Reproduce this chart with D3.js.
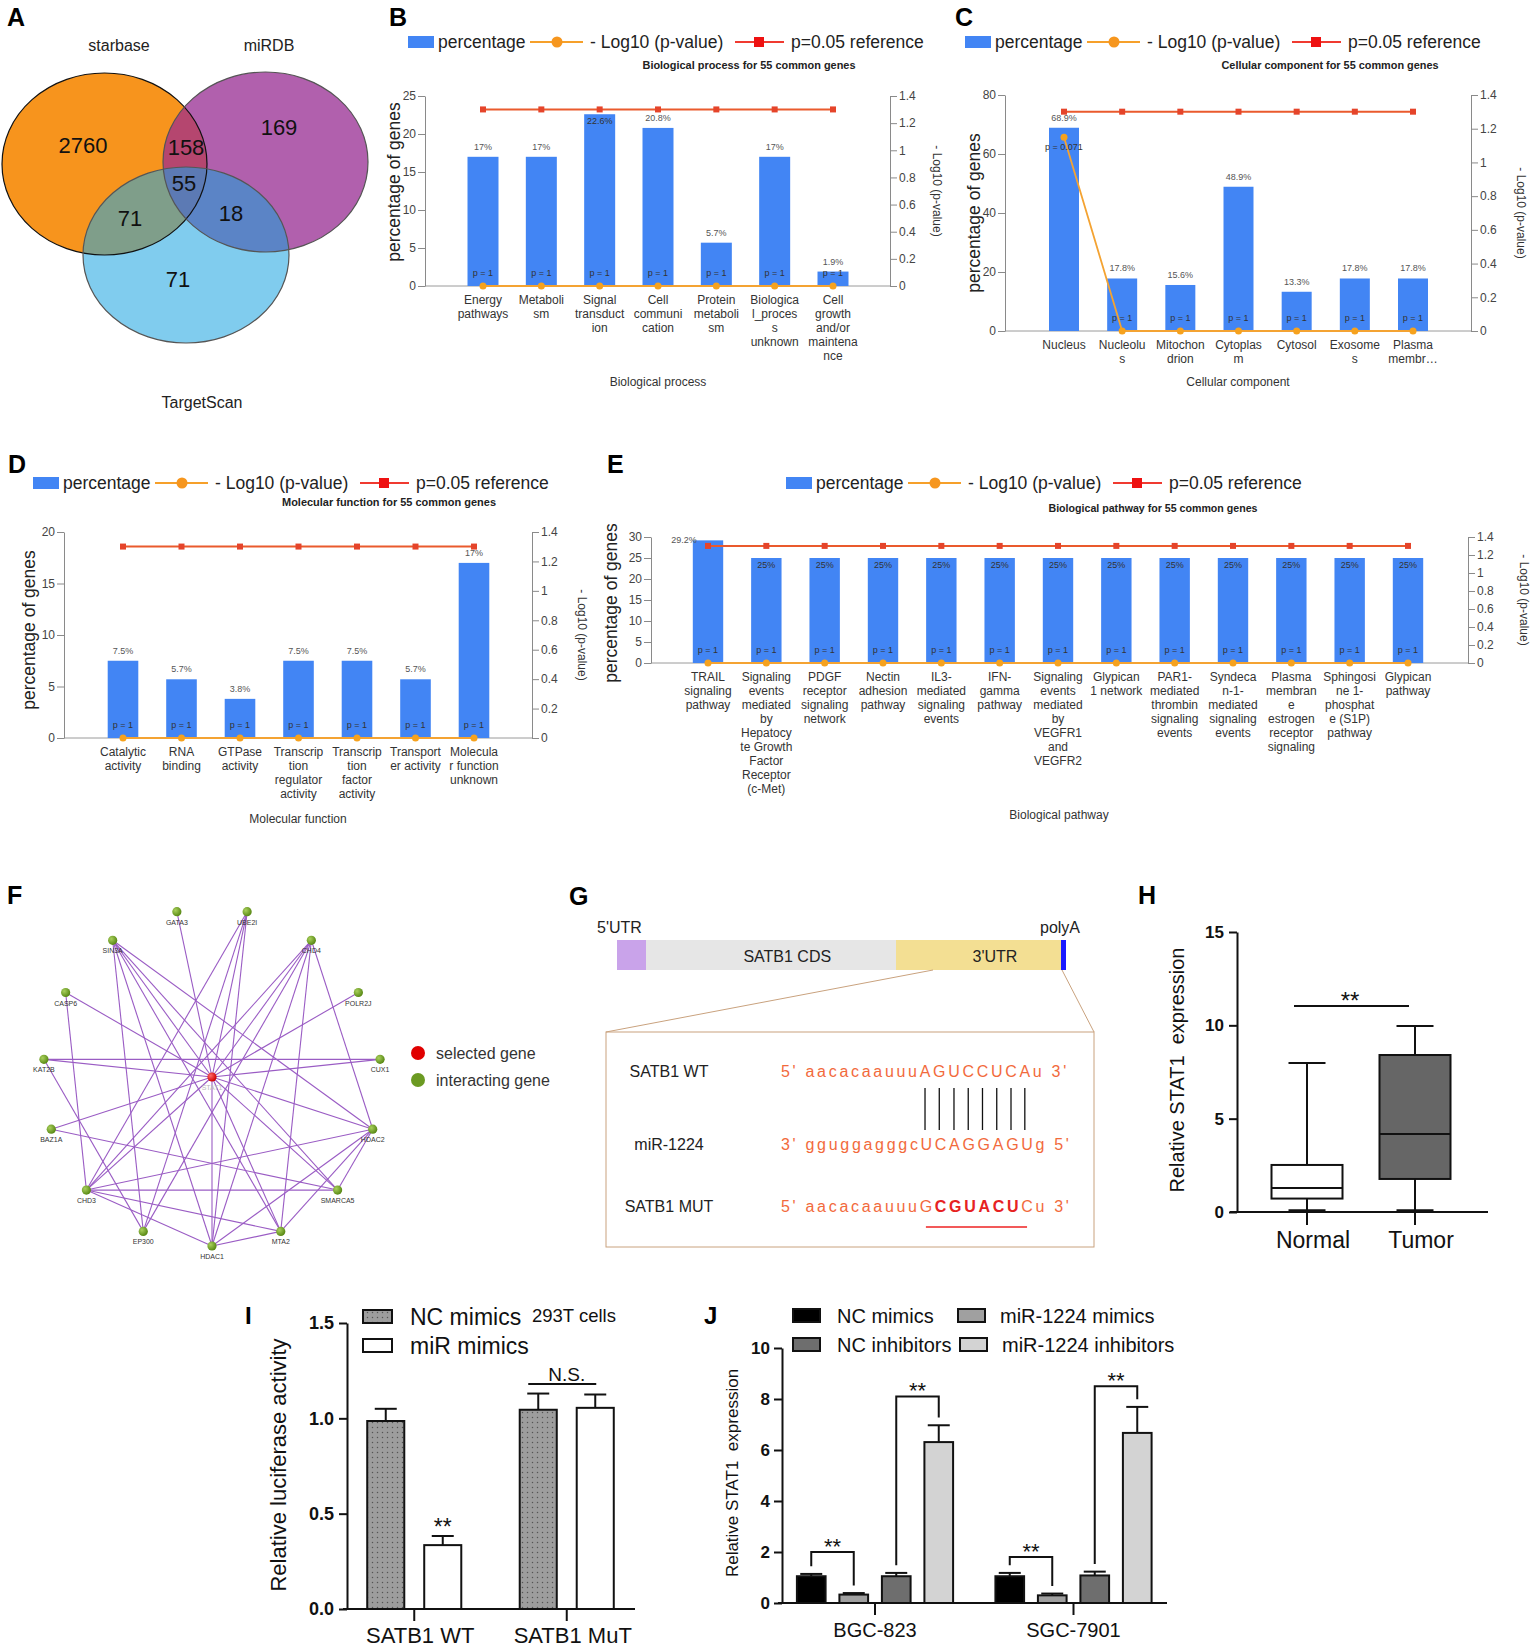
<!DOCTYPE html>
<html>
<head>
<meta charset="utf-8">
<script src="https://cdn.jsdelivr.net/npm/d3@7"></script>
<style>
body { margin: 0; background: #fff; }
svg { font-family: "Liberation Sans", Arial, sans-serif; }
</style>
</head>
<body>
<svg id="fig" width="1535" height="1649"></svg>
<script>
// ---------- data ----------
// A: venn
var vennNames = ["starbase", "miRDB", "TargetScan"];
// starbase only, miRDB only, TargetScan only, s∩m, s∩t, m∩t, all three
var vennCounts = [2760, 169, 71, 158, 71, 18, 55];

// B-E: GO / pathway enrichment
var refP = 0.05;
var bpCats = [["Energy", "pathways"], ["Metaboli", "sm"], ["Signal", "transduct", "ion"], ["Cell", "communi", "cation"],
  ["Protein", "metaboli", "sm"], ["Biologica", "l_proces", "s", "unknown"], ["Cell", "growth", "and/or", "maintena", "nce"]];
var bpPct = [17, 17, 22.6, 20.8, 5.7, 17, 1.9];
var bpP = [1, 1, 1, 1, 1, 1, 1];

var ccCats = [["Nucleus"], ["Nucleolu", "s"], ["Mitochon", "drion"], ["Cytoplas", "m"], ["Cytosol"], ["Exosome", "s"], ["Plasma", "membr\u2026"]];
var ccPct = [68.9, 17.8, 15.6, 48.9, 13.3, 17.8, 17.8];
var ccP = [0.071, 1, 1, 1, 1, 1, 1];

var mfCats = [["Catalytic", "activity"], ["RNA", "binding"], ["GTPase", "activity"], ["Transcrip", "tion", "regulator", "activity"],
  ["Transcrip", "tion", "factor", "activity"], ["Transport", "er activity"], ["Molecula", "r function", "unknown"]];
var mfPct = [7.5, 5.7, 3.8, 7.5, 7.5, 5.7, 17];
var mfP = [1, 1, 1, 1, 1, 1, 1];

var pwCats = [["TRAIL", "signaling", "pathway"],
  ["Signaling", "events", "mediated", "by", "Hepatocy", "te Growth", "Factor", "Receptor", "(c-Met)"],
  ["PDGF", "receptor", "signaling", "network"], ["Nectin", "adhesion", "pathway"], ["IL3-", "mediated", "signaling", "events"],
  ["IFN-", "gamma", "pathway"], ["Signaling", "events", "mediated", "by", "VEGFR1", "and", "VEGFR2"], ["Glypican", "1 network"],
  ["PAR1-", "mediated", "thrombin", "signaling", "events"], ["Syndeca", "n-1-", "mediated", "signaling", "events"],
  ["Plasma", "membran", "e", "estrogen", "receptor", "signaling"], ["Sphingosi", "ne 1-", "phosphat", "e (S1P)", "pathway"],
  ["Glypican", "pathway"]];
var pwPct = [29.2, 25, 25, 25, 25, 25, 25, 25, 25, 25, 25, 25, 25];
var pwP = [1, 1, 1, 1, 1, 1, 1, 1, 1, 1, 1, 1, 1];

// F: interaction network
var fCenter = "STAT1";
var fGenes = ["GATA3", "UBE2I", "CHD4", "POLR2J", "CUX1", "HDAC2", "SMARCA5", "MTA2", "HDAC1", "EP300", "CHD3", "BAZ1A", "KAT2B", "CASP6", "SIN3A"];
var fEdges = [
  ["STAT1", "GATA3"], ["STAT1", "UBE2I"], ["STAT1", "CHD4"], ["STAT1", "POLR2J"], ["STAT1", "CUX1"], ["STAT1", "HDAC2"],
  ["STAT1", "SMARCA5"], ["STAT1", "MTA2"], ["STAT1", "HDAC1"], ["STAT1", "CHD3"], ["STAT1", "BAZ1A"], ["STAT1", "KAT2B"],
  ["STAT1", "CASP6"], ["STAT1", "SIN3A"],
  ["UBE2I", "CHD3"], ["UBE2I", "EP300"], ["UBE2I", "HDAC1"],
  ["SIN3A", "HDAC1"], ["SIN3A", "MTA2"], ["SIN3A", "SMARCA5"], ["SIN3A", "HDAC2"], ["SIN3A", "EP300"],
  ["CHD4", "CHD3"], ["CHD4", "EP300"], ["CHD4", "HDAC1"], ["CHD4", "MTA2"], ["CHD4", "HDAC2"],
  ["CASP6", "CHD3"], ["KAT2B", "CUX1"], ["KAT2B", "EP300"], ["BAZ1A", "SMARCA5"],
  ["HDAC2", "CHD3"], ["HDAC2", "HDAC1"], ["HDAC2", "MTA2"], ["HDAC2", "SMARCA5"],
  ["CHD3", "SMARCA5"], ["CHD3", "MTA2"], ["CHD3", "HDAC1"], ["HDAC1", "MTA2"]];

// G: SATB1 construct
var gSegNames = ["", "SATB1 CDS", "3'UTR", ""];
var gSegLen = [29, 250, 165, 5];
var gRowNames = ["SATB1 WT", "miR-1224", "SATB1 MUT"];
var gSeqs = ["5' aacacaauuuAGUCCUCAu 3'", "3' gguggagggcUCAGGAGUg 5'", "5' aacacaauuuGCGUACUCu 3'"];
var gPairFrom = 13, gPairTo = 20;

// H: boxplot
var hGroups = ["Normal", "Tumor"];
var hMin = [0.07, 0.07], hQ1 = [0.72, 1.77], hMed = [1.29, 4.18], hQ3 = [2.52, 8.41], hMax = [7.98, 9.96];
var hSig = 11.04;

// I: luciferase
var iGroups = ["SATB1 WT", "SATB1 MuT"];
var iSeries = ["NC mimics", "miR mimics"];
var iVals = [[0.986, 0.335], [1.045, 1.055]];
var iErr = [[0.064, 0.048], [0.085, 0.07]];
var iNS = 1.18;

// J: qPCR
var jGroups = ["BGC-823", "SGC-7901"];
var jSeries = ["NC mimics", "miR-1224 mimics", "NC inhibitors", "miR-1224 inhibitors"];
var jVals = [[1.05, 0.33, 1.05, 6.31], [1.05, 0.30, 1.08, 6.67]];
var jErr = [[0.09, 0.06, 0.13, 0.66], [0.13, 0.07, 0.15, 1.02]];
var jBracket = [[2.0, 8.1], [1.8, 8.5]];

// ---------- drawing ----------
var svg = d3.select("#fig");
svg.append("rect").attr("width", 1535).attr("height", 1649).attr("fill", "#fff");
var defs = svg.append("defs");

function txt(g, x, y, s, size, opts) {
  opts = opts || {};
  var t = g.append("text").attr("x", x).attr("y", y).text(s)
    .attr("font-size", size).attr("fill", opts.fill || "#222")
    .attr("text-anchor", opts.anchor || "start");
  if (opts.weight) t.attr("font-weight", opts.weight);
  return t;
}
function rotTxt(g, x, y, s, size, angle, fill) {
  return g.append("text").attr("transform", "translate(" + x + "," + y + ") rotate(" + angle + ")")
    .attr("text-anchor", "middle").attr("dy", "0.35em").attr("font-size", size)
    .attr("fill", fill || "#222").style("white-space", "pre").text(s);
}

// panel letters
[["A", 7, 26], ["B", 389, 26], ["C", 955, 26], ["D", 8, 473], ["E", 607, 473], ["F", 7, 904], ["G", 569, 905], ["H", 1138, 904]]
  .forEach(function (p) { txt(svg, p[1], p[2], p[0], 25, { weight: "bold", fill: "#000" }); });
[["I", 245, 1324], ["J", 704, 1324]].forEach(function (p) { txt(svg, p[1], p[2], p[0], 24, { weight: "bold", fill: "#000" }); });

// ---------- A ----------
(function () {
  var g = svg.append("g");
  var ell = [{ cx: 104.5, cy: 164, rx: 102.5, ry: 91 }, { cx: 265.5, cy: 162, rx: 102.5, ry: 90 }, { cx: 186, cy: 255, rx: 103, ry: 88 }];
  var fills = ["#f7941d", "#b160ad", "#80ccee"];
  ell.forEach(function (e, i) {
    defs.append("clipPath").attr("id", "vclip" + i).append("ellipse")
      .attr("cx", e.cx).attr("cy", e.cy).attr("rx", e.rx).attr("ry", e.ry);
  });
  function el(parent, i, fill, clip) {
    var e = ell[i];
    var s = parent.append("ellipse").attr("cx", e.cx).attr("cy", e.cy).attr("rx", e.rx).attr("ry", e.ry).attr("fill", fill);
    if (clip != null) s.attr("clip-path", "url(#vclip" + clip + ")");
    return s;
  }
  ell.forEach(function (e, i) { el(g, i, fills[i]); });
  el(g, 1, "#b5466f", 0);
  el(g, 2, "#7f9e8a", 0);
  el(g, 2, "#5b84c6", 1);
  el(g.append("g").attr("clip-path", "url(#vclip0)"), 2, "#5c7ab4", 1);
  ell.forEach(function (e, i) {
    g.append("ellipse").attr("cx", e.cx).attr("cy", e.cy).attr("rx", e.rx).attr("ry", e.ry)
      .attr("fill", "none").attr("stroke", i === 0 ? "#111" : "#555").attr("stroke-width", 1.2);
  });
  var pos = [[83, 145], [279, 127], [178, 279], [186, 147], [130, 218], [231, 213], [184, 183]];
  vennCounts.forEach(function (c, i) { txt(g, pos[i][0], pos[i][1] + 8, c, 22, { anchor: "middle", fill: "#111" }); });
  var npos = [[119, 51], [269, 51], [202, 408]];
  vennNames.forEach(function (n, i) { txt(g, npos[i][0], npos[i][1], n, 16, { anchor: "middle" }); });
})();

// ---------- B-E ----------
var refVal = -Math.log10(refP);
var rightTicks = [0, 0.2, 0.4, 0.6, 0.8, 1, 1.2, 1.4];

function legend(x, y) {
  var g = svg.append("g");
  g.append("rect").attr("x", x).attr("y", y - 6).attr("width", 26).attr("height", 12).attr("fill", "#4285f4");
  txt(g, x + 30, y + 6, "percentage", 17.5);
  g.append("line").attr("x1", x + 122).attr("x2", x + 175).attr("y1", y).attr("y2", y).attr("stroke", "#f6a02a").attr("stroke-width", 2);
  g.append("circle").attr("cx", x + 149).attr("cy", y).attr("r", 5.5).attr("fill", "#f6961e");
  txt(g, x + 182, y + 6, "- Log10 (p-value)", 17.5);
  g.append("line").attr("x1", x + 327).attr("x2", x + 376).attr("y1", y).attr("y2", y).attr("stroke", "#f03a30").attr("stroke-width", 2);
  g.append("rect").attr("x", x + 346).attr("y", y - 5).attr("width", 10).attr("height", 10).attr("fill", "#ee1111");
  txt(g, x + 383, y + 6, "p=0.05 reference", 17.5);
}

function goChart(cats, pct, pv, yMax, yStep, L, title, yTitle) {
  var g = svg.append("g");
  var y = d3.scaleLinear().domain([0, yMax]).range([L.y0, L.yTop]);
  var y2 = d3.scaleLinear().domain([0, 1.4]).range([L.y0, L.yTop]);
  var x = d3.scalePoint().domain(d3.range(pct.length)).range([L.first, L.last]);
  var refY = y2(refVal);

  g.append("line").attr("x1", L.xl).attr("x2", L.xr).attr("y1", L.y0).attr("y2", L.y0).attr("stroke", "#9a9a9a");
  g.selectAll(".bar").data(pct).enter().append("rect")
    .attr("x", function (d, i) { return x(i) - L.bw / 2; })
    .attr("y", function (d) { return y(d); })
    .attr("width", L.bw)
    .attr("height", function (d) { return L.y0 - y(d); })
    .attr("fill", "#4285f4");

  var la = g.append("g").attr("transform", "translate(" + L.xl + ",0)")
    .call(d3.axisLeft(y).tickValues(d3.range(0, yMax + 0.001, yStep)).tickSize(7).tickSizeOuter(0).tickPadding(2));
  var ra = g.append("g").attr("transform", "translate(" + L.xr + ",0)")
    .call(d3.axisRight(y2).tickValues(rightTicks).tickSize(7).tickSizeOuter(0).tickPadding(2).tickFormat(d3.format("~g")));
  [la, ra].forEach(function (a) {
    a.attr("font-family", null).attr("font-size", 12);
    a.selectAll("path, line").attr("stroke", "#8a8a8a");
    a.selectAll("text").attr("fill", "#444");
  });

  // reference line
  g.append("path").datum(pct)
    .attr("d", d3.line().x(function (d, i) { return x(i); }).y(function () { return refY; }))
    .attr("fill", "none").attr("stroke", "#ea5a2d").attr("stroke-width", 2);
  g.selectAll(".sq").data(pct).enter().append("rect")
    .attr("x", function (d, i) { return x(i) - 3; }).attr("y", refY - 3)
    .attr("width", 6).attr("height", 6).attr("fill", "#e5442a");

  // -log10 p line
  var py = function (p) { return y2(Math.max(0, -Math.log10(p))); };
  g.append("path").datum(pv)
    .attr("d", d3.line().x(function (d, i) { return x(i); }).y(py))
    .attr("fill", "none").attr("stroke", "#f4a332").attr("stroke-width", 1.8);
  g.selectAll(".pt").data(pv).enter().append("circle")
    .attr("cx", function (d, i) { return x(i); }).attr("cy", py).attr("r", 3.5).attr("fill", "#f6a21e");

  // value labels
  pct.forEach(function (d, i) {
    var top = y(d);
    if (top < refY) {
      txt(g, x(i) - L.bw / 2 + 4, top + 3, d + "%", 9, { anchor: "end", fill: "#555" });
    } else if (top - 14 < refY) {
      txt(g, x(i), top + 10, d + "%", 9, { anchor: "middle", fill: "#333" });
    } else {
      txt(g, x(i), top - 7, d + "%", 9, { anchor: "middle", fill: "#555" });
    }
  });
  pv.forEach(function (p, i) {
    var yy = p < 1 ? py(p) + 13 : L.y0 - 10;
    txt(g, x(i), yy, "p = " + p, 9, { anchor: "middle", fill: "#333" });
  });

  // category labels
  cats.forEach(function (lines, i) {
    var t = g.append("text").attr("text-anchor", "middle").attr("font-size", 12).attr("fill", "#333");
    lines.forEach(function (s, k) {
      t.append("tspan").attr("x", x(i)).attr("y", L.y0 + 18 + k * 14).text(s);
    });
  });

  txt(g, L.titleX, L.titleY, title, 11.5, { anchor: "middle", weight: "bold" })
    .attr("textLength", L.titleW).attr("lengthAdjust", "spacingAndGlyphs");
  txt(g, L.xtitleX, L.xtitleY, yTitle, 12, { anchor: "middle", fill: "#333" });
  rotTxt(g, L.ylabX, L.ylabY, "percentage of genes", 17.5, -90);
  rotTxt(g, L.rlabX, L.rlabY, "- Log10 (p-value)", 12, 90, "#333");
  legend(L.legX, L.legY);
}

goChart(bpCats, bpPct, bpP, 25, 5,
  { xl: 425, xr: 890, y0: 286, yTop: 96, first: 483, last: 833, bw: 31, titleX: 749, titleY: 69, titleW: 213,
    legX: 408, legY: 42, ylabX: 394, ylabY: 182, rlabX: 937, rlabY: 191, xtitleX: 658, xtitleY: 386 },
  "Biological process for 55 common genes", "Biological process");
goChart(ccCats, ccPct, ccP, 80, 20,
  { xl: 1005, xr: 1471, y0: 331, yTop: 95, first: 1064, last: 1413, bw: 30, titleX: 1330, titleY: 69, titleW: 217,
    legX: 965, legY: 42, ylabX: 974, ylabY: 213, rlabX: 1521, rlabY: 213, xtitleX: 1238, xtitleY: 386 },
  "Cellular component for 55 common genes", "Cellular component");
goChart(mfCats, mfPct, mfP, 20, 5,
  { xl: 64, xr: 532, y0: 738, yTop: 532, first: 123, last: 474, bw: 30.6, titleX: 389, titleY: 506, titleW: 214,
    legX: 33, legY: 483, ylabX: 29, ylabY: 630, rlabX: 582, rlabY: 635, xtitleX: 298, xtitleY: 823 },
  "Molecular function for 55 common genes", "Molecular function");
goChart(pwCats, pwPct, pwP, 30, 5,
  { xl: 651, xr: 1468, y0: 663, yTop: 537, first: 708, last: 1408, bw: 30.4, titleX: 1153, titleY: 512, titleW: 209,
    legX: 786, legY: 483, ylabX: 611, ylabY: 603, rlabX: 1524, rlabY: 600, xtitleX: 1059, xtitleY: 819 },
  "Biological pathway for 55 common genes", "Biological pathway");

// ---------- F ----------
(function () {
  var g = svg.append("g");
  var gr = defs.append("radialGradient").attr("id", "gGreen").attr("cx", "35%").attr("cy", "35%").attr("r", "65%");
  gr.append("stop").attr("offset", "0%").attr("stop-color", "#a9d05c");
  gr.append("stop").attr("offset", "100%").attr("stop-color", "#5a8a16");
  var rr = defs.append("radialGradient").attr("id", "gRed").attr("cx", "35%").attr("cy", "35%").attr("r", "65%");
  rr.append("stop").attr("offset", "0%").attr("stop-color", "#ff6a6a");
  rr.append("stop").attr("offset", "100%").attr("stop-color", "#d00000");

  var cx = 212, cy = 1077, R = 169;
  var ang = d3.scaleLinear().domain([0, fGenes.length]).range([-12, 348]);
  var pos = {};
  pos[fCenter] = [cx, cy];
  fGenes.forEach(function (n, i) {
    var a = ang(i) * Math.PI / 180;
    pos[n] = [cx + R * Math.sin(a), cy - R * Math.cos(a)];
  });
  g.selectAll(".edge").data(fEdges).enter().append("line")
    .attr("x1", function (e) { return pos[e[0]][0]; }).attr("y1", function (e) { return pos[e[0]][1]; })
    .attr("x2", function (e) { return pos[e[1]][0]; }).attr("y2", function (e) { return pos[e[1]][1]; })
    .attr("stroke", "#9a5cc4").attr("stroke-width", 1.1);
  fGenes.forEach(function (n) {
    g.append("circle").attr("cx", pos[n][0]).attr("cy", pos[n][1]).attr("r", 4.6).attr("fill", "url(#gGreen)");
    txt(g, pos[n][0], pos[n][1] + 13, n, 7, { anchor: "middle", fill: "#333" });
  });
  txt(g, cx, cy + 13, fCenter, 7, { anchor: "middle", fill: "#bbb" });
  g.append("circle").attr("cx", cx).attr("cy", cy).attr("r", 4.6).attr("fill", "url(#gRed)");

  g.append("circle").attr("cx", 418).attr("cy", 1053).attr("r", 7).attr("fill", "#e00000");
  txt(g, 436, 1059, "selected gene", 16, { fill: "#333" });
  g.append("circle").attr("cx", 418).attr("cy", 1080).attr("r", 7).attr("fill", "#6b9a22");
  txt(g, 436, 1086, "interacting gene", 16, { fill: "#333" });
})();

// ---------- G ----------
(function () {
  var g = svg.append("g");
  var total = d3.sum(gSegLen);
  var xs = d3.scaleLinear().domain([0, total]).range([617, 1066]);
  var cols = ["#c9a3ea", "#e6e6e6", "#f3df93", "#1a1aff"];
  var labelAt = [0.5, 0.565, 0.6, 0.5];
  var acc = 0;
  gSegLen.forEach(function (len, i) {
    g.append("rect").attr("x", xs(acc)).attr("y", 940).attr("width", xs(acc + len) - xs(acc)).attr("height", 30).attr("fill", cols[i]);
    if (gSegNames[i]) {
      txt(g, xs(acc + len * labelAt[i]), 962, gSegNames[i], 16, { anchor: "middle" });
    }
    acc += len;
  });
  txt(g, 597, 933, "5'UTR", 16);
  txt(g, 1040, 933, "polyA", 16);
  var tan = "#c9a27e";
  g.append("line").attr("x1", 933).attr("y1", 970).attr("x2", 606).attr("y2", 1032).attr("stroke", tan);
  g.append("line").attr("x1", 1062).attr("y1", 970).attr("x2", 1094).attr("y2", 1032).attr("stroke", tan);
  g.append("rect").attr("x", 606).attr("y", 1032).attr("width", 488).attr("height", 215).attr("fill", "none").attr("stroke", tan);

  var rowY = [1077, 1150, 1212];
  gRowNames.forEach(function (n, i) { txt(g, 669, rowY[i], n, 16, { anchor: "middle" }); });
  var seqEls = gSeqs.map(function (s, i) {
    var t = g.append("text").attr("x", 781).attr("y", rowY[i]).attr("font-size", 16)
      .attr("fill", "#f26a3c").style("letter-spacing", "2.7px").style("white-space", "pre");
    if (i === 2) {
      t.append("tspan").text(s.slice(0, 14));
      t.append("tspan").text(s.slice(14, 20)).attr("fill", "#e62222").attr("font-weight", "bold");
      t.append("tspan").text(s.slice(20));
    } else {
      t.text(s);
    }
    return t;
  });
  function cxChar(el, k) {
    var b = el.node().getExtentOfChar(k);
    return b.x + (b.width - 2.7) / 2;
  }
  for (var k = gPairFrom; k <= gPairTo; k++) {
    var px = cxChar(seqEls[0], k);
    g.append("line").attr("x1", px).attr("x2", px).attr("y1", 1088).attr("y2", 1130).attr("stroke", "#111").attr("stroke-width", 1.3);
  }
  g.append("line").attr("x1", cxChar(seqEls[2], gPairFrom)).attr("x2", cxChar(seqEls[2], gPairTo))
    .attr("y1", 1227).attr("y2", 1227).attr("stroke", "#ee2222").attr("stroke-width", 1.5);
})();

// ---------- H ----------
(function () {
  var g = svg.append("g");
  var y = d3.scaleLinear().domain([0, 15]).range([1212, 932]);
  var x = d3.scalePoint().domain(hGroups).range([1307, 1415]);
  var ax = g.append("g").attr("transform", "translate(1237,0)")
    .call(d3.axisLeft(y).tickValues([0, 5, 10, 15]).tickSize(8).tickSizeOuter(0).tickPadding(5));
  ax.attr("font-family", null).attr("font-size", 17).attr("font-weight", "bold");
  ax.selectAll("path, line").attr("stroke", "#111").attr("stroke-width", 2);
  ax.selectAll("text").attr("fill", "#111");
  g.append("line").attr("x1", 1230).attr("x2", 1488).attr("y1", 1212).attr("y2", 1212).attr("stroke", "#111").attr("stroke-width", 2);
  hGroups.forEach(function (n, i) {
    var c = x(n);
    g.append("line").attr("x1", c).attr("x2", c).attr("y1", 1212).attr("y2", 1225).attr("stroke", "#111").attr("stroke-width", 2);
    g.append("line").attr("x1", c).attr("x2", c).attr("y1", y(hQ3[i])).attr("y2", y(hMax[i])).attr("stroke", "#111").attr("stroke-width", 2);
    g.append("line").attr("x1", c).attr("x2", c).attr("y1", y(hQ1[i])).attr("y2", y(hMin[i])).attr("stroke", "#111").attr("stroke-width", 2);
    g.append("line").attr("x1", c - 18.5).attr("x2", c + 18.5).attr("y1", y(hMax[i])).attr("y2", y(hMax[i])).attr("stroke", "#111").attr("stroke-width", 2);
    g.append("line").attr("x1", c - 18.5).attr("x2", c + 18.5).attr("y1", y(hMin[i])).attr("y2", y(hMin[i])).attr("stroke", "#111").attr("stroke-width", 3);
    g.append("rect").attr("x", c - 35.5).attr("y", y(hQ3[i])).attr("width", 71).attr("height", y(hQ1[i]) - y(hQ3[i]))
      .attr("fill", i === 0 ? "#fff" : "#666").attr("stroke", "#111").attr("stroke-width", 2);
    g.append("line").attr("x1", c - 35.5).attr("x2", c + 35.5).attr("y1", y(hMed[i])).attr("y2", y(hMed[i])).attr("stroke", "#111").attr("stroke-width", 2);
    txt(g, c + 6, 1248, n, 23, { anchor: "middle", fill: "#111" });
  });
  g.append("line").attr("x1", x("Normal") - 13).attr("x2", x("Tumor") - 6).attr("y1", y(hSig)).attr("y2", y(hSig)).attr("stroke", "#111").attr("stroke-width", 2);
  txt(g, 1350, y(hSig) + 3, "**", 24, { anchor: "middle", fill: "#111" });
  rotTxt(g, 1177, 1070, "Relative STAT1  expression", 20, -90, "#111");
})();

// ---------- I ----------
(function () {
  var g = svg.append("g");
  var pat = defs.append("pattern").attr("id", "dots").attr("width", 5).attr("height", 5).attr("patternUnits", "userSpaceOnUse");
  pat.append("rect").attr("width", 5).attr("height", 5).attr("fill", "#9d9d9d");
  pat.append("circle").attr("cx", 2.5).attr("cy", 2.5).attr("r", 0.75).attr("fill", "#555");
  var fills = ["url(#dots)", "#fff"];
  var y = d3.scaleLinear().domain([0, 1.5]).range([1609, 1323]);
  var x0 = d3.scaleBand().domain(iGroups).range([338, 643]);
  var x1 = d3.scaleBand().domain(iSeries).range([19.25, 133.25]).paddingInner(0.35).paddingOuter(0.175);
  var ax = g.append("g").attr("transform", "translate(347,0)")
    .call(d3.axisLeft(y).tickValues([0, 0.5, 1, 1.5]).tickFormat(d3.format(".1f")).tickSize(8).tickSizeOuter(0).tickPadding(5));
  ax.attr("font-family", null).attr("font-size", 18).attr("font-weight", "bold");
  ax.selectAll("path, line").attr("stroke", "#111").attr("stroke-width", 2);
  ax.selectAll("text").attr("fill", "#111");
  g.append("line").attr("x1", 343).attr("x2", 635).attr("y1", 1609).attr("y2", 1609).attr("stroke", "#111").attr("stroke-width", 2);
  iGroups.forEach(function (gn, gi) {
    var gc = x0(gn) + x0.bandwidth() / 2;
    g.append("line").attr("x1", gc).attr("x2", gc).attr("y1", 1609).attr("y2", 1621).attr("stroke", "#111").attr("stroke-width", 2);
    txt(g, gc + 6, 1643, gn, 22, { anchor: "middle", fill: "#111" });
    iSeries.forEach(function (sn, si) {
      var bx = x0(gn) + x1(sn), bw = x1.bandwidth(), v = iVals[gi][si], e = iErr[gi][si];
      var bc = bx + bw / 2;
      g.append("line").attr("x1", bc).attr("x2", bc).attr("y1", y(v)).attr("y2", y(v + e)).attr("stroke", "#111").attr("stroke-width", 2);
      g.append("line").attr("x1", bc - 11).attr("x2", bc + 11).attr("y1", y(v + e)).attr("y2", y(v + e)).attr("stroke", "#111").attr("stroke-width", 2);
      g.append("rect").attr("x", bx).attr("y", y(v)).attr("width", bw).attr("height", 1609 - y(v))
        .attr("fill", fills[si]).attr("stroke", "#111").attr("stroke-width", 2);
    });
  });
  var wt = x0("SATB1 WT") + x1("miR mimics") + x1.bandwidth() / 2;
  txt(g, wt, y(iVals[0][1] + iErr[0][1]) - 1, "**", 23, { anchor: "middle", fill: "#111" });
  var ncM = x0("SATB1 MuT") + x1("NC mimics") + x1.bandwidth() / 2;
  var miM = x0("SATB1 MuT") + x1("miR mimics") + x1.bandwidth() / 2;
  g.append("line").attr("x1", ncM - 10).attr("x2", miM + 1).attr("y1", y(iNS)).attr("y2", y(iNS)).attr("stroke", "#111").attr("stroke-width", 2);
  txt(g, (ncM + miM) / 2, y(iNS) - 3, "N.S.", 19, { anchor: "middle", fill: "#111" });

  // legend
  iSeries.forEach(function (sn, si) {
    var ly = 1310 + si * 29;
    g.append("rect").attr("x", 363).attr("y", ly).attr("width", 29).attr("height", 13).attr("fill", fills[si]).attr("stroke", "#111").attr("stroke-width", 2);
    txt(g, 410, ly + 15, sn, 23, { fill: "#111" });
  });
  txt(g, 532, 1322, "293T cells", 18.5, { fill: "#111" });
  rotTxt(g, 278, 1465, "Relative luciferase activity", 22, -90, "#111");
})();

// ---------- J ----------
(function () {
  var g = svg.append("g");
  var cols = ["#000", "#a0a0a0", "#6e6e6e", "#d3d3d3"];
  var y = d3.scaleLinear().domain([0, 10]).range([1603, 1348]);
  var x0 = d3.scaleBand().domain(jGroups).range([775.75, 1172.75]);
  var x1 = d3.scaleBand().domain(jSeries).range([14.25, 184.25]).paddingInner(0.325).paddingOuter(0.1625);
  var ax = g.append("g").attr("transform", "translate(782,0)")
    .call(d3.axisLeft(y).tickValues([0, 2, 4, 6, 8, 10]).tickSize(8).tickSizeOuter(0).tickPadding(4));
  ax.attr("font-family", null).attr("font-size", 17).attr("font-weight", "bold");
  ax.selectAll("path, line").attr("stroke", "#111").attr("stroke-width", 2);
  ax.selectAll("text").attr("fill", "#111");
  g.append("line").attr("x1", 778).attr("x2", 1167).attr("y1", 1603).attr("y2", 1603).attr("stroke", "#111").attr("stroke-width", 2);
  jGroups.forEach(function (gn, gi) {
    var gc = x0(gn) + x0.bandwidth() / 2;
    g.append("line").attr("x1", gc).attr("x2", gc).attr("y1", 1603).attr("y2", 1615).attr("stroke", "#111").attr("stroke-width", 2);
    txt(g, gc, 1637, gn, 20, { anchor: "middle", fill: "#111" });
    var cen = [];
    jSeries.forEach(function (sn, si) {
      var bx = x0(gn) + x1(sn), bw = x1.bandwidth(), v = jVals[gi][si], e = jErr[gi][si];
      var bc = bx + bw / 2;
      cen.push(bc);
      g.append("line").attr("x1", bc).attr("x2", bc).attr("y1", y(v)).attr("y2", y(v + e)).attr("stroke", "#111").attr("stroke-width", 2);
      g.append("line").attr("x1", bc - 11).attr("x2", bc + 11).attr("y1", y(v + e)).attr("y2", y(v + e)).attr("stroke", "#111").attr("stroke-width", 2);
      g.append("rect").attr("x", bx).attr("y", y(v)).attr("width", bw).attr("height", 1603 - y(v))
        .attr("fill", cols[si]).attr("stroke", "#111").attr("stroke-width", 2);
    });
    [[0, 1], [2, 3]].forEach(function (pr, pi) {
      var top = jBracket[gi][pi];
      var l = pr[0], r = pr[1];
      var lb = y(jVals[gi][l] + jErr[gi][l] + 0.3), rb = y(jVals[gi][r] + jErr[gi][r] + 0.3);
      g.append("path").attr("d", "M" + cen[l] + "," + lb + "V" + y(top) + "H" + cen[r] + "V" + rb)
        .attr("fill", "none").attr("stroke", "#111").attr("stroke-width", 2);
      txt(g, (cen[l] + cen[r]) / 2, y(top) + 2, "**", 22, { anchor: "middle", fill: "#111" });
    });
  });
  var lpos = [[793, 1309, 837], [958, 1309, 1000], [793, 1338, 837], [960, 1338, 1002]];
  jSeries.forEach(function (sn, si) {
    var p = lpos[si];
    g.append("rect").attr("x", p[0]).attr("y", p[1]).attr("width", 27).attr("height", 13).attr("fill", cols[si]).attr("stroke", "#111").attr("stroke-width", 2);
    txt(g, p[2], p[1] + 14, sn, 20, { fill: "#111" });
  });
  rotTxt(g, 732, 1473, "Relative STAT1  expression", 17, -90, "#111");
})();
</script>
</body>
</html>
